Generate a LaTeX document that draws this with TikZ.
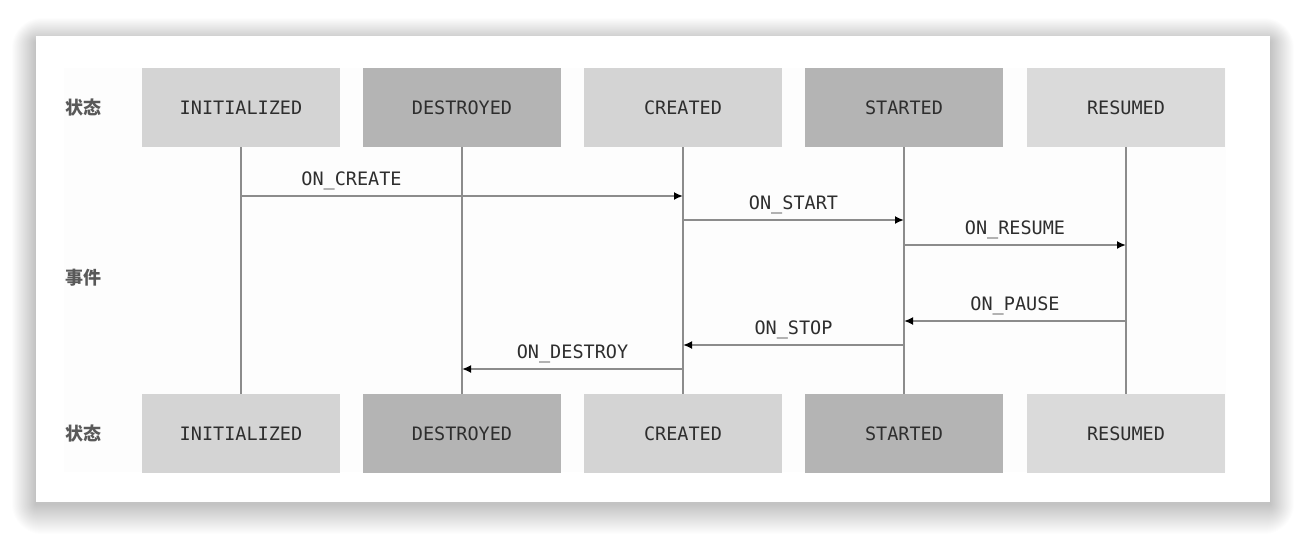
\documentclass[tikz,border=0pt]{standalone}
\usepackage{fontspec}
\setmonofont{DejaVu Sans Mono}
\newfontfamily\cjk{Noto Sans CJK SC}
\usetikzlibrary{arrows.meta}
\definecolor{lightbox}{HTML}{D4D4D4}
\definecolor{darkbox}{HTML}{B4B4B4}
\definecolor{palebox}{HTML}{DADADA}
\definecolor{lifeline}{HTML}{8C8C8C}
\definecolor{txt}{HTML}{2E2E2E}
\tikzset{
  state/.style={minimum width=198pt, minimum height=79pt, inner sep=0pt, font=\ttfamily\fontsize{18.5}{20}\selectfont, text=txt},
  side/.style={font=\cjk\bfseries\fontsize{18}{20}\selectfont, text=black!65, anchor=west},
  life/.style={draw=lifeline, line width=2.3pt},
  evt/.style={draw=lifeline, line width=2.3pt, -{Latex[length=9pt,width=8pt,color=black]}},
  evlabel/.style={font=\ttfamily\fontsize{18.5}{20}\selectfont, text=txt, above=2pt}
}
\begin{document}
\begin{tikzpicture}[x=1pt,y=-1pt]
\useasboundingbox (0,0) rectangle (1306,538);
\fill[white] (0,0) rectangle (1306,538);
% shadow
\foreach \i in {1,...,30}{
  \fill[black, opacity=0.0065, rounded corners=\i pt] (36-0.8*\i,42-0.8*\i) rectangle (1270+0.8*\i,504+\i);
}
\fill[white] (36,36) rectangle (1270,502);
\fill[black!0.6] (64,68) rectangle (1226,472);
% side labels
\node[side] (s1) at (62,108) {状态};
\node[side] (s2) at (62,278) {事件};
\node[side] (s3) at (62,434) {状态};
% top boxes
\node[state, fill=lightbox] (t1) at (241,107.5) {INITIALIZED};
\node[state, fill=darkbox]  (t2) at (462,107.5) {DESTROYED};
\node[state, fill=lightbox] (t3) at (683,107.5) {CREATED};
\node[state, fill=darkbox]  (t4) at (904,107.5) {STARTED};
\node[state, fill=palebox]  (t5) at (1126,107.5) {RESUMED};
% bottom boxes
\node[state, fill=lightbox] (b1) at (241,433.5) {INITIALIZED};
\node[state, fill=darkbox]  (b2) at (462,433.5) {DESTROYED};
\node[state, fill=lightbox] (b3) at (683,433.5) {CREATED};
\node[state, fill=darkbox]  (b4) at (904,433.5) {STARTED};
\node[state, fill=palebox]  (b5) at (1126,433.5) {RESUMED};
% lifelines
\foreach \k in {1,...,5}{ \draw[life] (t\k.south) -- (b\k.north); }
% event coordinates
\coordinate (c1a) at (241,196);  \coordinate (c1b) at (683,196);
\coordinate (c2a) at (683,220);  \coordinate (c2b) at (904,220);
\coordinate (c3a) at (904,245);  \coordinate (c3b) at (1126,245);
\coordinate (c4a) at (1126,321); \coordinate (c4b) at (904,321);
\coordinate (c5a) at (904,345);  \coordinate (c5b) at (683,345);
\coordinate (c6a) at (683,369);  \coordinate (c6b) at (462,369);
\draw[evt] (c1a) -- node[evlabel, pos=0.25] (l1) {ON\_CREATE} (c1b);
\draw[evt] (c2a) -- node[evlabel] (l2) {ON\_START} (c2b);
\draw[evt] (c3a) -- node[evlabel] (l3) {ON\_RESUME} (c3b);
\draw[evt] (c4a) -- node[evlabel] (l4) {ON\_PAUSE} (c4b);
\draw[evt] (c5a) -- node[evlabel] (l5) {ON\_STOP} (c5b);
\draw[evt] (c6a) -- node[evlabel] (l6) {ON\_DESTROY} (c6b);
\end{tikzpicture}
\end{document}
